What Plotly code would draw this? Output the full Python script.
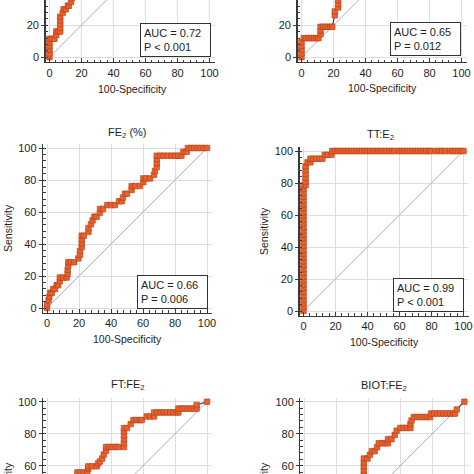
import plotly.graph_objects as go

W = H = 474

# ---------------- data ----------------
ticks = [0, 20, 40, 60, 80, 100]
diag = [0, 100]

# top-left panel (title cropped away)
tl_fpr = [0, 0, 0, 0, 0, 0, 1.6, 3.1, 4.2, 4.2, 5.5, 6.7, 6.7, 6.7, 6.7, 6.7,
          8.3, 8.8, 10.2, 11.5, 12.1, 13.5, 13.9, 14.5, 15.5]
tl_sens = [0, 2.3, 4.6, 6.9, 9.2, 11.5, 11.5, 11.5, 13.8, 16.1, 16.1, 16.1, 18.4, 20.7, 23, 25.3,
           27.6, 29.9, 29.9, 32.2, 32.2, 34.5, 36.8, 39.1, 41.4]

# top-right panel (title cropped away)
tr_fpr = [0, 0, 0, 0, 0, 1.4, 3, 4.6, 6.2, 7.8, 9.4, 10.6, 11.9, 11.9, 11.9,
          13.5, 15, 16.5, 18, 19.2, 20.8, 20.8, 22.9, 22.9, 22.9, 24]
tr_sens = [0, 2.4, 4.8, 7.1, 9.5, 11.9, 11.9, 11.9, 11.9, 11.9, 11.9, 11.9, 14.3, 16.7, 19,
           19, 19, 19, 19, 19, 26.2, 28.6, 31, 33.3, 35.7, 38.1]

# FE2 (%)
fe_fpr = [0, 0, 1, 1.5, 2, 3, 3.9, 5, 6, 7, 8, 8, 10, 12.3, 12.9, 12.9, 13.3, 13.3, 15, 17,
          19.6, 20.6, 20.6, 21.7, 21.7, 21.7, 21.7, 23, 25.9, 25.9, 27.5, 28.5, 29.6, 31, 33.1,
          33.1, 35, 37.7, 40, 42.5, 45, 46.7, 47.5, 48.8, 50, 52.9, 52.9, 55, 58, 60.2, 60.2,
          62, 64.4, 66.9, 67.5, 68.6, 68.6, 68.6, 68.6, 71, 73, 75.5, 77.9, 80, 82, 84, 85.2,
          87.3, 88, 90, 92, 94, 96, 98, 100]
fe_sens = [0, 2.4, 4.8, 7, 9.5, 9.5, 11.9, 11.9, 14.3, 14.3, 16.7, 19, 19, 19, 21.4, 23.8,
           26.2, 28.6, 28.6, 28.6, 31, 33.3, 35.7, 38.1, 40.5, 42.9, 45.2, 45.2, 47.6, 50, 52.4,
           54.8, 57.1, 57.1, 59.5, 61.9, 61.9, 64.3, 64.3, 64.3, 66.7, 66.7, 69, 71.4, 71.4,
           73.8, 76.2, 76.2, 76.2, 78.6, 81, 81, 81, 83.3, 85.7, 88.1, 90.5, 92.9, 95.2, 95.2,
           95.2, 95.2, 95.2, 95.2, 95.2, 95.2, 97.6, 97.6, 100, 100, 100, 100, 100, 100, 100]

# TT:E2
tt_fpr = [0, 0, 0, 0, 0, 0, 0, 0, 0, 0, 0, 0, 0, 0, 0, 0, 0, 0, 0, 0, 0, 0, 0, 0, 0, 0, 0, 0,
          0, 0, 0, 0, 0, 0,
          1.3, 1.3, 1.3, 1.3, 1.3, 1.3, 2.5, 4.3, 4.3, 6, 8, 10, 11.8, 13.3, 15.2, 17.5, 17.9,
          19.6, 21.3, 23, 24.7, 26.4, 28.1, 29.8, 31.5, 33.2, 34.9, 36.6, 38.3, 40, 41.7, 43.4,
          45.1, 46.8, 48.5, 50.2, 51.9, 53.6, 55.3, 56.8,
          59.7, 61.4, 63.1, 64.8, 66.5, 68.2, 69.9, 71.6, 73.3, 75, 76.7, 78.4, 79.6,
          82.6, 84.6, 86.6, 88.6,
          91.4, 93.1, 94.8, 96.5, 98.2, 100]
tt_sens = [0, 2.4, 4.8, 7.1, 9.5, 11.9, 14.3, 16.7, 19, 21.4, 23.8, 26.2, 28.6, 31, 33.3, 35.7,
           38.1, 40.5, 42.9, 45.2, 47.6, 50, 52.4, 54.8, 57.1, 59.5, 61.9, 64.3, 66.7, 69, 71.4,
           73.8, 76.2, 78.6,
           78.6, 81, 83.3, 85.7, 88.1, 90.5, 92.9, 92.9, 95.2, 95.2, 95.2, 95.2, 95.2, 97.6, 97.6,
           97.6, 100,
           100, 100, 100, 100, 100, 100, 100, 100, 100, 100, 100, 100, 100, 100, 100,
           100, 100, 100, 100, 100, 100, 100, 100,
           100, 100, 100, 100, 100, 100, 100, 100, 100, 100, 100, 100, 100,
           100, 100, 100, 100,
           100, 100, 100, 100, 100, 100]

# FT:FE2
ft_fpr = [19, 19, 21, 23, 25.2, 25.8, 25.8, 28, 31, 32, 33.1, 34.5, 35.5, 36.9, 36.9, 39, 41,
          43, 45, 48.1, 48.1, 48.1, 48.1, 48.1, 48.1, 50, 52.3, 54, 56, 58, 59.2, 62.3, 64.5,
          66.9, 66.9, 69, 71, 73, 75, 77, 79, 81, 82.1, 82.1, 84, 86, 88, 90, 92, 93.5, 93.5,
          100]
ft_sens = [53.4, 55.8, 55.8, 55.8, 55.8, 58.2, 59.6, 59.6, 59.6, 61.5, 62.7, 64.5, 67, 69.4,
           71.7, 71.7, 71.7, 71.7, 71.7, 71.7, 74, 76.5, 79, 81.5, 83.5, 83.5, 86, 88.5, 88.5,
           88.5, 88.5, 90.8, 90.8, 90.8, 93.3, 93.3, 93.3, 93.3, 93.3, 93.3, 93.3, 93.3, 93.3,
           95.7, 95.7, 95.7, 95.7, 95.7, 95.7, 95.7, 98, 100]

# BIOT:FE2
bi_fpr = [37.2, 37.2, 37.2, 37.2, 37.2, 37.2, 39.5, 41, 42.2, 44, 45.5, 46.5, 48.5, 50.5,
          52.3, 52.3, 54.5, 56.5, 57.7, 60, 62, 64, 66.3, 66.3, 67, 68.4, 70.5, 72.5, 74.5,
          76.5, 78.5, 79.2, 81, 83, 85, 87, 89, 91, 93, 94.2, 95.3, 100]
bi_sens = [52, 54.5, 57, 59.5, 62, 64.5, 64.5, 66.8, 69.1, 69.1, 71.5, 74, 74, 74, 74, 76.6,
           76.6, 79.2, 81.9, 83.6, 83.6, 83.6, 83.6, 86, 88.3, 90.4, 90.4, 90.4, 90.4, 90.4,
           90.4, 92.6, 92.6, 92.6, 92.6, 92.6, 92.6, 92.6, 92.6, 92.6, 95.2, 100]

titles = ["", "", "FE<sub>2</sub> (%)", "TT:E<sub>2</sub>", "FT:FE<sub>2</sub>", "BIOT:FE<sub>2</sub>"]
auc_text = ["AUC = 0.72<br>P &lt; 0.001", "AUC = 0.65<br>P = 0.012",
            "AUC = 0.66<br>P = 0.006", "AUC = 0.99<br>P &lt; 0.001", None, None]
x_title = "100-Specificity"
y_title = "Sensitivity"

# ---------------- layout geometry (pixels in the 474x474 picture) ----------------
series = [(tl_fpr, tl_sens), (tr_fpr, tr_sens), (fe_fpr, fe_sens),
          (tt_fpr, tt_sens), (ft_fpr, ft_sens), (bi_fpr, bi_sens)]
xdoms = [(45.5, 214.5), (297.5, 466.5), (43, 212), (299.5, 468.5), (43, 212), (300.3, 469.3)]
ydoms = [(0, 62), (0, 62), (144, 312.8), (147, 315.8), (397.7, 474), (397.7, 474)]
yranges = [(-3, 35.75), (-3, 35.75), (-3, 102.5), (-3, 102.5), (54.81, 102.5), (54.81, 102.5)]
title_pos = [None, None, (127, 133), (380, 135), (128, 385), (384, 386)]
xt_pos = [(132, 89), (382, 88), (128, 339), (384, 342), None, None]
yt_pos = [None, None, (8, 228), (264, 231), (8, 486), (264, 486)]
box_pos = [(175, 40), (425.5, 39), (172, 291.5), (428.5, 294.5), None, None]

FONT = "Arial, Liberation Sans, Helvetica, sans-serif"
TXT = "#1e1e1e"
AX = "#3a3a3a"
GRID = "#dedede"
LINE = "#3a3478"
MFILL = "#E8602C"
MEDGE = "#B0401A"
DIAG = "#b4aabd"


def px(x):
    return x / W


def py(y):
    return 1 - y / H


fig = go.Figure()
layout = dict(width=W, height=H, margin=dict(l=0, r=0, t=0, b=0),
              paper_bgcolor="white", plot_bgcolor="white", showlegend=False,
              font=dict(family=FONT, color=TXT, size=11))
annotations = []

for i, (fx, fy) in enumerate(series):
    n = i + 1
    xa = "x" if n == 1 else f"x{n}"
    ya = "y" if n == 1 else f"y{n}"
    xkey = "xaxis" if n == 1 else f"xaxis{n}"
    ykey = "yaxis" if n == 1 else f"yaxis{n}"
    bottom_row = i >= 4

    fig.add_trace(go.Scatter(x=diag, y=diag, mode="lines", xaxis=xa, yaxis=ya,
                             line=dict(color=DIAG, width=1), hoverinfo="skip"))
    fig.add_trace(go.Scatter(x=fx, y=fy, mode="lines+markers", xaxis=xa, yaxis=ya,
                             line=dict(color=LINE, width=1.2),
                             marker=dict(symbol="square", size=5.5, color=MFILL,
                                         line=dict(color=MEDGE, width=0.6))))

    xd = xdoms[i]
    yd = ydoms[i]
    layout[xkey] = dict(
        domain=[px(xd[0]), px(xd[1])], range=[-2.5, 103.1], anchor=ya,
        tickvals=ticks, showgrid=True, gridcolor=GRID, gridwidth=1, zeroline=False,
        showline=not bottom_row, linecolor=AX, linewidth=1.3,
        ticks="" if bottom_row else "inside", ticklen=4, tickcolor=AX,
        showticklabels=not bottom_row,
        minor=dict(dtick=4, ticks="" if bottom_row else "inside", ticklen=2.5,
                   tickcolor=AX, showgrid=False),
        tickfont=dict(size=11, color=TXT, family=FONT), fixedrange=True, automargin=False)
    layout[ykey] = dict(
        domain=[py(yd[1]), py(yd[0])], range=list(yranges[i]), anchor=xa,
        tickvals=ticks, showgrid=True, gridcolor=GRID, gridwidth=1, zeroline=False,
        showline=True, linecolor=AX, linewidth=1.3,
        ticks="outside", ticklen=3, tickcolor=AX,
        minor=dict(dtick=4, ticks="inside", ticklen=2.5, tickcolor=AX, showgrid=False),
        tickfont=dict(size=11, color=TXT, family=FONT), fixedrange=True, automargin=False)

    if title_pos[i]:
        annotations.append(dict(text=titles[i], x=px(title_pos[i][0]), y=py(title_pos[i][1]),
                                xref="paper", yref="paper", xanchor="center", yanchor="middle",
                                showarrow=False, font=dict(size=11, color=TXT)))
    if xt_pos[i]:
        annotations.append(dict(text=x_title, x=px(xt_pos[i][0]), y=py(xt_pos[i][1]),
                                xref="paper", yref="paper", xanchor="center", yanchor="middle",
                                showarrow=False, font=dict(size=10.5, color=TXT)))
    if yt_pos[i]:
        annotations.append(dict(text=y_title, x=px(yt_pos[i][0]), y=py(yt_pos[i][1]),
                                xref="paper", yref="paper", xanchor="center", yanchor="middle",
                                textangle=-90, showarrow=False, font=dict(size=10.5, color=TXT)))
    if box_pos[i]:
        annotations.append(dict(text=auc_text[i], x=px(box_pos[i][0]), y=py(box_pos[i][1]),
                                xref="paper", yref="paper", xanchor="center", yanchor="middle",
                                align="left", width=63, showarrow=False,
                                bgcolor="white", bordercolor="#333333", borderwidth=1,
                                borderpad=3, font=dict(size=11, color=TXT)))

layout["annotations"] = annotations
fig.update_layout(**layout)
fig.write_html("out.html", config={"displayModeBar": False, "staticPlot": True},
               post_script="document.body.style.margin='0';"
                           "document.body.style.overflow='hidden';")
